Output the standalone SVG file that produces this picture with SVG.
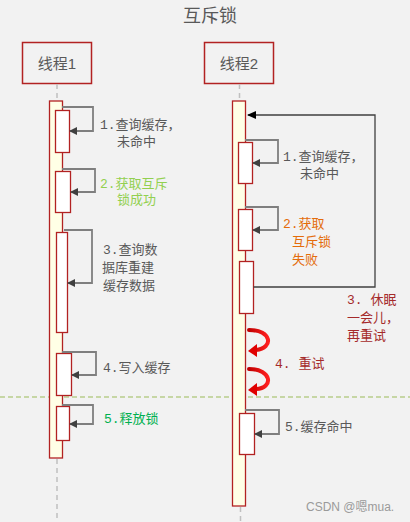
<svg xmlns="http://www.w3.org/2000/svg" width="410" height="522" viewBox="0 0 410 522">
<defs>
<marker id="ah" markerWidth="8" markerHeight="8" refX="7" refY="4" orient="auto" markerUnits="userSpaceOnUse"><path d="M0,0 L8,4 L0,8 Z" fill="#404040"/></marker>
<marker id="ahb" markerWidth="9" markerHeight="8" refX="8" refY="4" orient="auto" markerUnits="userSpaceOnUse"><path d="M0,0 L9,4 L0,8 Z" fill="#000"/></marker>
<linearGradient id="rg" x1="0" y1="0" x2="1" y2="0"><stop offset="0" stop-color="#c00000"/><stop offset="1" stop-color="#ff2020"/></linearGradient>
</defs>
<style>
text{font-family:"Liberation Sans","Noto Sans CJK SC",sans-serif;font-size:13px;fill:#595959}
.lb{font-family:"Liberation Mono","Noto Sans CJK SC",monospace}
.hd{fill:#f2f2f2;stroke:#b22222;stroke-width:1.5}
.bar{fill:#ffffe6;stroke:#b22222;stroke-width:1.3}
.act{fill:#fff;stroke:#b22222;stroke-width:1.3}
.life{stroke:#c0c0c0;stroke-width:1.5;stroke-dasharray:5,4;fill:none}
.self{fill:none;stroke:#7f7f7f;stroke-width:1.8;marker-end:url(#ah)}
.loop{fill:none;stroke:#404040;stroke-width:1.3;marker-end:url(#ahb)}
.rc{fill:none;stroke:url(#rg);stroke-width:4;stroke-linecap:round}
</style>
<rect width="410" height="522" fill="#f2f2f2"/>
<text x="210" y="22" text-anchor="middle" style="font-size:18px">互斥锁</text>
<line x1="0" y1="397" x2="410" y2="397" stroke="#9bbb59" stroke-width="1" stroke-dasharray="5,3"/>
<g id="thread1">
<rect class="hd" x="22.5" y="42.5" width="69" height="41"/>
<text x="57" y="69" text-anchor="middle" style="font-size:15px">线程1</text>
<line class="life" x1="57" y1="84" x2="57" y2="101"/>
<line class="life" x1="57" y1="459" x2="57" y2="522"/>
<rect class="bar" x="49.5" y="101" width="13" height="357"/>
</g>
<g id="thread2">
<rect class="hd" x="204.5" y="42.5" width="69" height="41"/>
<text x="239" y="69" text-anchor="middle" style="font-size:15px">线程2</text>
<line class="life" x1="239.5" y1="84" x2="239.5" y2="101"/>
<line class="life" x1="240.5" y1="507" x2="240.5" y2="522"/>
<rect class="bar" x="232.5" y="101" width="13" height="405"/>
</g>
<g id="t1-activations">
<rect class="act" x="55.5" y="110.5" width="14" height="42"/>
<rect class="act" x="55.5" y="171.5" width="15" height="41"/>
<rect class="act" x="56.5" y="232.5" width="11" height="100"/>
<rect class="act" x="56.5" y="353.5" width="15" height="42"/>
<rect class="act" x="56.5" y="406.5" width="13" height="34"/>
</g>
<g id="t2-activations">
<rect class="act" x="238.5" y="142.5" width="14" height="41"/>
<rect class="act" x="238.5" y="209.5" width="14" height="41"/>
<rect class="act" x="239.5" y="261.5" width="14" height="52"/>
<rect class="act" x="239.5" y="413.5" width="15" height="41"/>
</g>
<g id="connectors">
<path class="self" d="M62,107 H93 V131 H70"/>
<path class="self" d="M62,169 H95 V192 H71"/>
<path class="self" d="M64,230 H92 V283 H68"/>
<path class="self" d="M62,352 H96 V375 H72"/>
<path class="self" d="M62,405 H93 V424 H70"/>
<path class="self" d="M245,140 H278 V163 H253"/>
<path class="self" d="M245,207 H278 V230 H253"/>
<path class="self" d="M245,410 H279 V434 H255"/>
<path class="loop" d="M253.5,287 H375 V115 H248"/>
<path class="rc" d="M249,330 C272,330 274,348 256,350"/>
<path d="M248,351 L257,344 L257,357 Z" fill="#e00000"/>
<path class="rc" d="M249,369 C272,369 274,388 256,389"/>
<path d="M248,390 L257,383 L257,396 Z" fill="#e00000"/>
</g>
<g id="labels" class="lb">
<text class="lb" x="100" y="129">1.查询缓存，</text>
<text class="lb" x="117" y="146">未命中</text>
<text class="lb" x="100" y="188" style="fill:#92d050">2.获取互斥</text>
<text class="lb" x="117" y="204" style="fill:#92d050">锁成功</text>
<text class="lb" x="103" y="254">3.查询数</text>
<text class="lb" x="102" y="272">据库重建</text>
<text class="lb" x="103" y="290">缓存数据</text>
<text class="lb" x="103" y="372">4.写入缓存</text>
<text class="lb" x="104" y="423" style="fill:#00b050">5.释放锁</text>
<text class="lb" x="283" y="161">1.查询缓存，</text>
<text class="lb" x="300" y="178">未命中</text>
<text class="lb" x="283" y="228" style="fill:#e46c0a">2.获取</text>
<text class="lb" x="292" y="246" style="fill:#e46c0a">互斥锁</text>
<text class="lb" x="292" y="264" style="fill:#e46c0a">失败</text>
<text class="lb" x="347" y="304" style="fill:#a52a2a">3. 休眠</text>
<text class="lb" x="347" y="322" style="fill:#a52a2a">一会儿，</text>
<text class="lb" x="347" y="340" style="fill:#a52a2a">再重试</text>
<text class="lb" x="275" y="368" style="fill:#a52a2a">4. 重试</text>
<text class="lb" x="285" y="431">5.缓存命中</text>
<text x="306" y="511" style="fill:#9a9a9a;font-size:12px">CSDN @嗯mua.</text>
</g>
</svg>
